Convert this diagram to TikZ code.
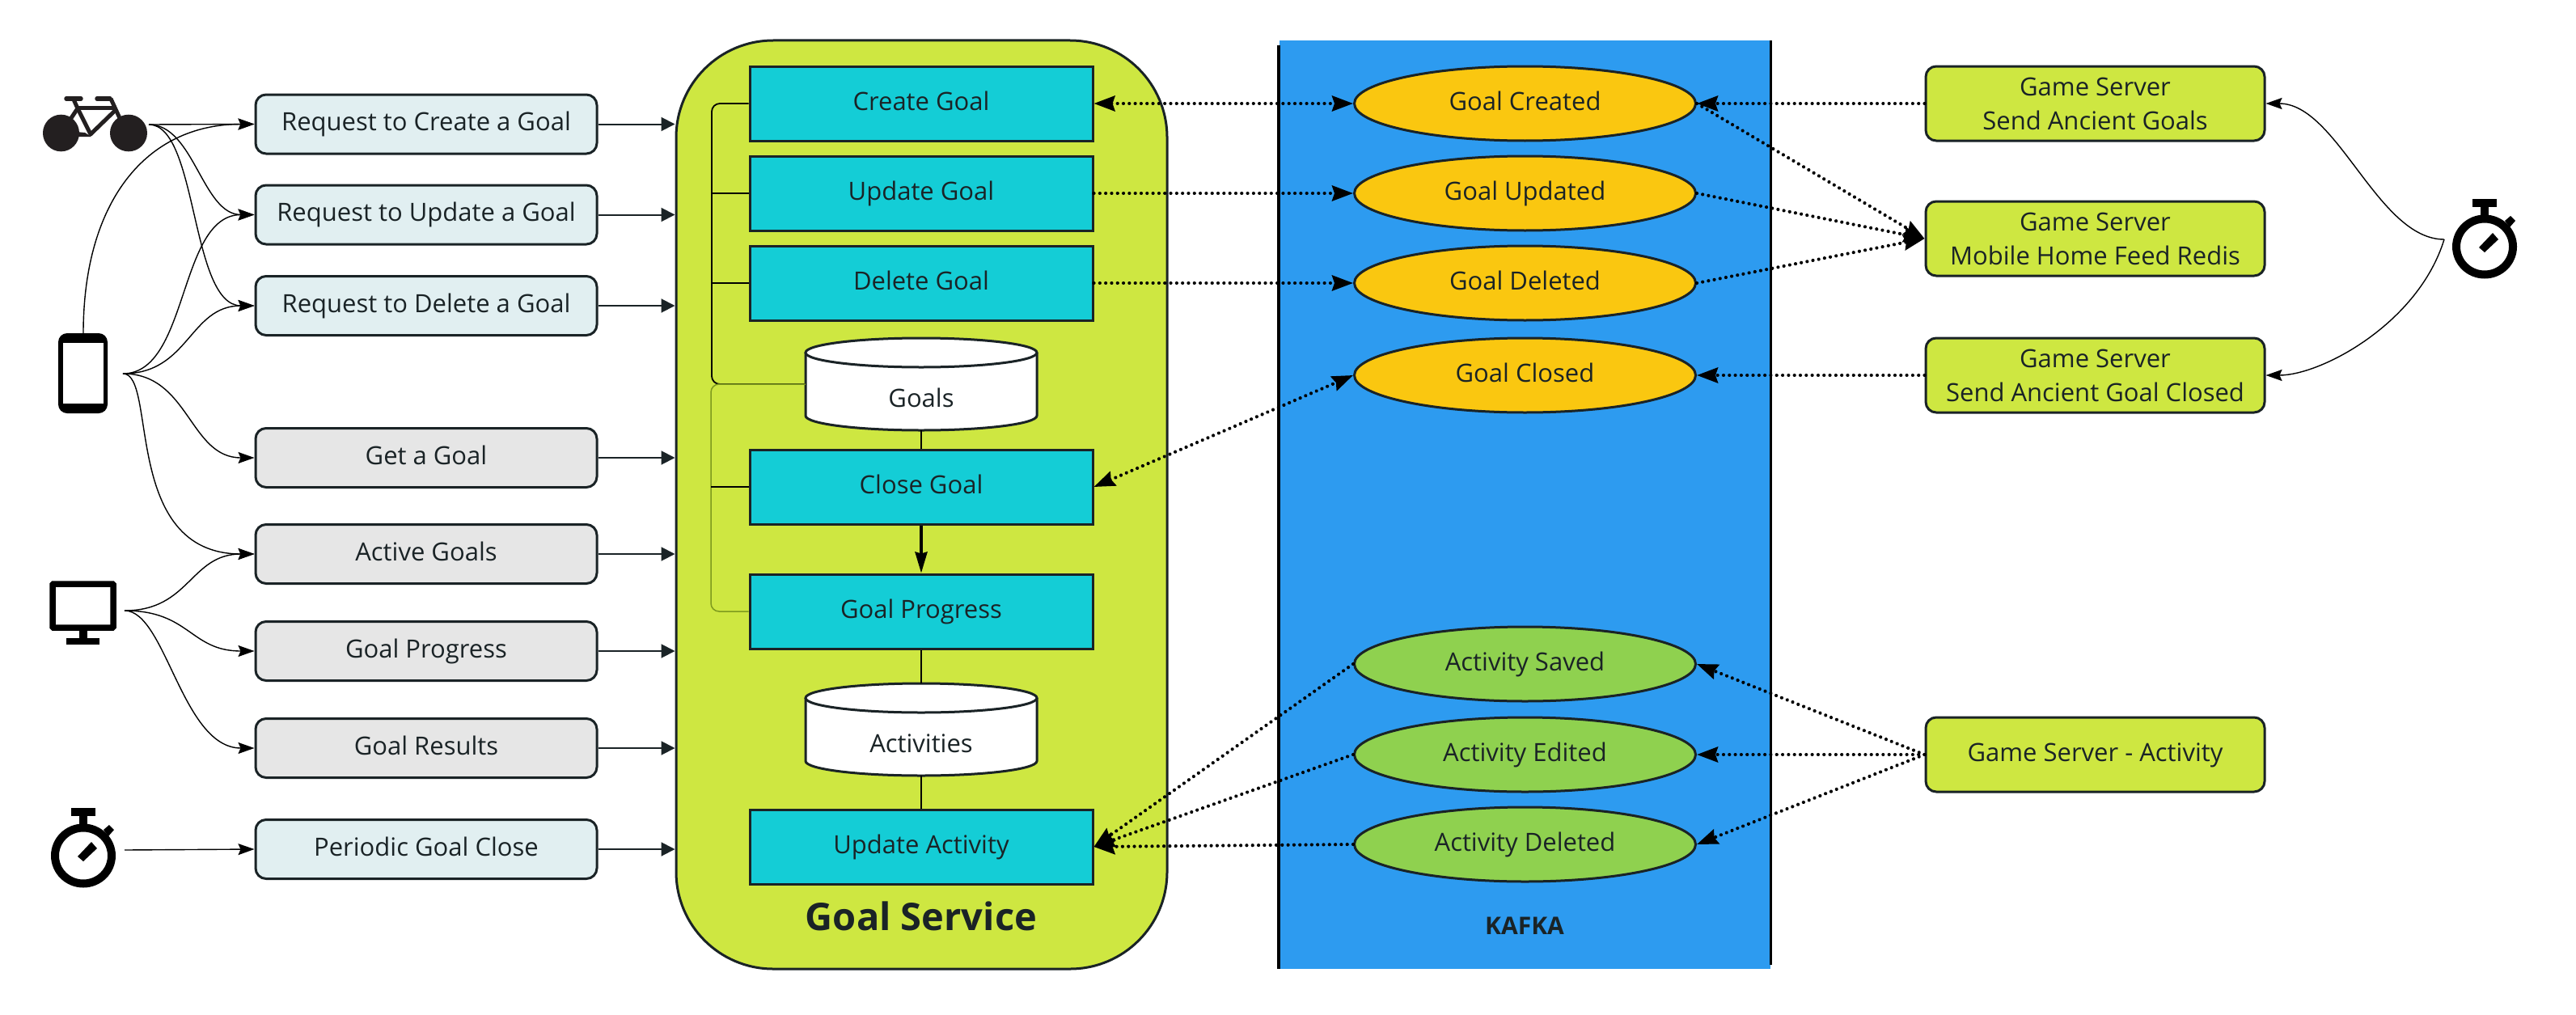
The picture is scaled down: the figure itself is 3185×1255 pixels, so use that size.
\documentclass[tikz,border=0pt]{standalone}
\usepackage{fontspec}
\setmainfont{Open Sans}
\usetikzlibrary{arrows.meta,shapes.geometric}
\definecolor{ink}{HTML}{1A2326}
\definecolor{lime}{HTML}{CEE741}
\definecolor{teal}{HTML}{14CDD6}
\definecolor{kafka}{HTML}{2D9BF0}
\definecolor{amber}{HTML}{FAC710}
\definecolor{leaf}{HTML}{8FD14F}
\definecolor{pale}{HTML}{E1EFF1}
\definecolor{greyb}{HTML}{E6E6E6}
\definecolor{olive}{HTML}{7E9A1E}
\definecolor{bikec}{HTML}{231F20}
\tikzset{
 x=1pt,y=-1pt,
 txt/.style={font=\fontsize{31}{42}\selectfont,text=ink,align=center},
 oneln/.style={txt,text height=22pt,text depth=6pt},
 reqbox/.style={oneln,draw=ink,line width=3pt,rounded corners=13pt,minimum width=422pt,minimum height=73pt,inner sep=0pt},
 palebox/.style={reqbox,fill=pale},
 greybox/.style={reqbox,fill=greyb},
 srvbox/.style={txt,draw=ink,fill=lime,line width=3pt,rounded corners=13pt,minimum width=419pt,minimum height=92pt,inner sep=0pt},
 opbox/.style={oneln,draw=ink,fill=teal,line width=3pt,minimum width=424pt,minimum height=92pt,inner sep=0pt},
 topic/.style={oneln,ellipse,draw=ink,line width=3pt,minimum width=422pt,minimum height=92pt,inner sep=0pt},
 goalev/.style={topic,fill=amber},
 actev/.style={topic,fill=leaf},
 dbnode/.style={oneln,minimum width=286pt,minimum height=114pt,inner sep=0pt},
 dbshape/.style={draw=ink,fill=white,line width=3pt},
 thin/.style={draw=black,line width=1.4pt,-{Stealth[length=20pt,width=14pt,inset=3pt]}},
 feed/.style={draw=ink,line width=2pt,-{Triangle[length=17pt,width=17pt]}},
 dots/.style={draw=black,line width=4.2pt,line cap=round,dash pattern=on 0.01pt off 7.3pt},
 dottip/.style={dots,-{Stealth[length=26pt,width=19pt,inset=3pt]}},
 tie/.style={draw=black,line width=1.2pt},
 tieb/.style={draw=black,line width=1.8pt,rounded corners=10pt},
 tieo/.style={draw=olive,line width=1.5pt,rounded corners=10pt},
}
\newcommand{\stopw}[2]{%
 \begin{scope}[shift={(#1,#2)}]
  \draw[black,line width=10pt] (0,0) ellipse [x radius=35pt,y radius=34.5pt];
  \fill[black] (-15,-59) rectangle (15,-49);
  \fill[black] (-5,-49) rectangle (5,-36);
  \fill[black] (25,-32) -- (32,-38) -- (38,-32) -- (31,-24) -- cycle;
  \fill[black] (-7,1) -- (10,-17) -- (17,-9) -- (0,7) -- cycle;
 \end{scope}}
\begin{document}
\begin{tikzpicture}
\useasboundingbox (0,0) rectangle (3185,1255);
\fill[white] (0,0) rectangle (3185,1255);

% containers
\node[draw=ink,fill=lime,line width=3pt,rounded corners=120pt,minimum width=607pt,minimum height=1148pt,inner sep=0pt] (svc) at (1139.5,624) {};
\node[fill=kafka,minimum width=607pt,minimum height=1148pt,inner sep=0pt] (kaf) at (1885,624) {};
\coordinate (kl1) at (1581,56); \coordinate (kl2) at (1581,1198);
\coordinate (kr1) at (2189,50); \coordinate (kr2) at (2189,1193);
\draw[black,line width=4pt] (kl1) -- (kl2);
\draw[black,line width=3pt] (kr1) -- (kr2);
\node[anchor=base,font=\fontsize{47}{52}\selectfont\bfseries,text=ink] (svct) at (1139,1150) {Goal Service};
\node[anchor=base,font=\fontsize{30}{36}\selectfont\bfseries,text=ink] (kaft) at (1885,1155) {KAFKA};

% request boxes
\node[palebox] (r1) at (527,153.5) {Request to Create a Goal};
\node[palebox] (r2) at (527,265.5) {Request to Update a Goal};
\node[palebox] (r3) at (527,378) {Request to Delete a Goal};
\node[greybox] (r4) at (527,566) {Get a Goal};
\node[greybox] (r5) at (527,685) {Active Goals};
\node[greybox] (r6) at (527,805) {Goal Progress};
\node[greybox] (r7) at (527,925) {Goal Results};
\node[palebox] (r8) at (527,1050) {Periodic Goal Close};

% operations
\node[opbox] (o1) at (1139,128) {Create Goal};
\node[opbox] (o2) at (1139,239) {Update Goal};
\node[opbox] (o3) at (1139,350) {Delete Goal};
\node[opbox] (o4) at (1139,602) {Close Goal};
\node[opbox] (o5) at (1139,756) {Goal Progress};
\node[opbox] (o6) at (1139,1047) {Update Activity};

% databases
\draw[dbshape] (996,436) -- (996,514) .. controls (996,524) and (1060,532) .. (1139,532) .. controls (1218,532) and (1282,524) .. (1282,514) -- (1282,436);
\draw[dbshape] (1139,436) ellipse [x radius=143pt,y radius=18pt];
\node[dbnode,label={[oneln,yshift=-20pt]center:Goals}] (d1) at (1139,475) {};
\draw[dbshape] (996,863) -- (996,941) .. controls (996,951) and (1060,959) .. (1139,959) .. controls (1218,959) and (1282,951) .. (1282,941) -- (1282,863);
\draw[dbshape] (1139,863) ellipse [x radius=143pt,y radius=18pt];
\node[dbnode,label={[oneln,yshift=-20pt]center:Activities}] (d2) at (1139,902) {};

% events
\node[goalev] (e1) at (1885.5,128) {Goal Created};
\node[goalev] (e2) at (1885.5,239) {Goal Updated};
\node[goalev] (e3) at (1885.5,350) {Goal Deleted};
\node[goalev] (e4) at (1885.5,464) {Goal Closed};
\node[actev] (a1) at (1885.5,821) {Activity Saved};
\node[actev] (a2) at (1885.5,933) {Activity Edited};
\node[actev] (a3) at (1885.5,1044) {Activity Deleted};

% game servers
\node[srvbox] (s1) at (2590.5,128) {Game Server\\Send Ancient Goals};
\node[srvbox] (s2) at (2590.5,295) {Game Server\\Mobile Home Feed Redis};
\node[srvbox] (s3) at (2590.5,464) {Game Server\\Send Ancient Goal Closed};
\node[srvbox,oneln] (s4) at (2590.5,933) {Game Server - Activity};

% icons
% bike
\fill[bikec] (75.5,164.5) ellipse [x radius=22.5pt,y radius=22.8pt];
\fill[bikec] (159,164.5) ellipse [x radius=23pt,y radius=22.8pt];
\draw[bikec,line width=5.5pt,line cap=round] (82,122) -- (100,122);
\draw[bikec,line width=5.5pt,line cap=round] (120,122) -- (136,122);
\draw[bikec,line width=5pt,line join=round] (91,123) -- (96,134) -- (112,166) -- (144,135);
\draw[bikec,line width=4.5pt] (95,133.5) -- (144,133.5);
\draw[bikec,line width=5pt] (137,122) -- (148,146);
\draw[bikec,line width=5pt] (96,134) -- (84,152);
\fill[bikec] (94,163) -- (105,164) -- (113,169) -- (96,169) -- cycle;
% phone
\fill[black,rounded corners=11pt] (72,412) rectangle (133,511);
\fill[white] (78,424) rectangle (128,499);
% monitor
\draw[black,line width=7.5pt,rounded corners=1pt] (65,722) rectangle (140,776);
\fill[black] (98,780) rectangle (108,790);
\fill[black] (82,789) rectangle (123,797);
\stopw{103}{1058}
\stopw{3072}{305}

\coordinate (bikeo) at (184,154);
\coordinate (phonet) at (103,412);
\coordinate (phoneo) at (152,462);
\coordinate (mono) at (154,755);
\coordinate (stl) at (154,1051);
\coordinate (str) at (3022,296);

% client connectors
\draw[thin] (bikeo) -- (r1.west);
\draw[thin] (bikeo) .. controls (240,154) and (250,265.5) .. (r2.west);
\draw[thin] (bikeo) .. controls (245,154) and (235,378) .. (r3.west);
\draw[thin] (phonet) .. controls (103,250) and (180,153.5) .. (r1.west);
\draw[thin] (phoneo) .. controls (234,462) and (220,265.5) .. (r2.west);
\draw[thin] (phoneo) .. controls (234,462) and (234,378) .. (r3.west);
\draw[thin] (phoneo) .. controls (234,462) and (234,566) .. (r4.west);
\draw[thin] (phoneo) .. controls (195,462) and (150,685) .. (r5.west);
\draw[thin] (mono) .. controls (235,755) and (235,685) .. (r5.west);
\draw[thin] (mono) .. controls (235,755) and (235,805) .. (r6.west);
\draw[thin] (mono) .. controls (205,755) and (225,925) .. (r7.west);
\draw[thin] (stl) -- (r8.west);
\draw[thin] (str) .. controls (2940,296) and (2890,128) .. (s1.east);
\draw[thin] (str) .. controls (2990,400) and (2870,464) .. (s3.east);

% into the service
\foreach \n in {r1,r2,r3,r4,r5,r6,r7,r8} \draw[feed] (\n.east) -- (\n.east -| svc.west);

% internal
\draw[tieb] (d1.west) -- (880,475) -- (880,128) -- (o1.west);
\draw[tie] (880,239) -- (o2.west);
\draw[tie] (880,350) -- (o3.west);
\draw[tieo] (d1.west) -- (879,475) -- (879,756) -- (o5.west);
\draw[tie] (879,602) -- (o4.west);
\draw[tie] (d1.south) -- (o4.north);
\draw[black,line width=3.5pt,-{Stealth[length=26pt,width=15pt,inset=2pt]}] (o4.south) -- (o5.north);
\draw[tie] (o5.south) -- (d2.north);
\draw[tie] (d2.south) -- (o6.north);

% dotted
\draw[dottip,{Stealth[length=26pt,width=19pt,inset=3pt]}-{Stealth[length=26pt,width=19pt,inset=3pt]}] (o1.east) -- (e1.west);
\draw[dottip] (o2.east) -- (e2.west);
\draw[dottip] (o3.east) -- (e3.west);
\draw[dottip,{Stealth[length=26pt,width=19pt,inset=3pt]}-{Stealth[length=26pt,width=19pt,inset=3pt]}] (o4.east) -- (e4.west);
\draw[dottip] (a1.west) -- (o6.east);
\draw[dottip] (a2.west) -- (o6.east);
\draw[dottip] (a3.west) -- (o6.east);
\draw[dottip] (s1.west) -- (e1.east);
\draw[dottip] (s3.west) -- (e4.east);
\draw[dottip] (e1.east) -- (s2.west);
\draw[dottip] (e2.east) -- (s2.west);
\draw[dottip] (e3.east) -- (s2.west);
\draw[dottip] (s4.west) -- (a1.east);
\draw[dottip] (s4.west) -- (a2.east);
\draw[dottip] (s4.west) -- (a3.east);
\end{tikzpicture}
\end{document}
